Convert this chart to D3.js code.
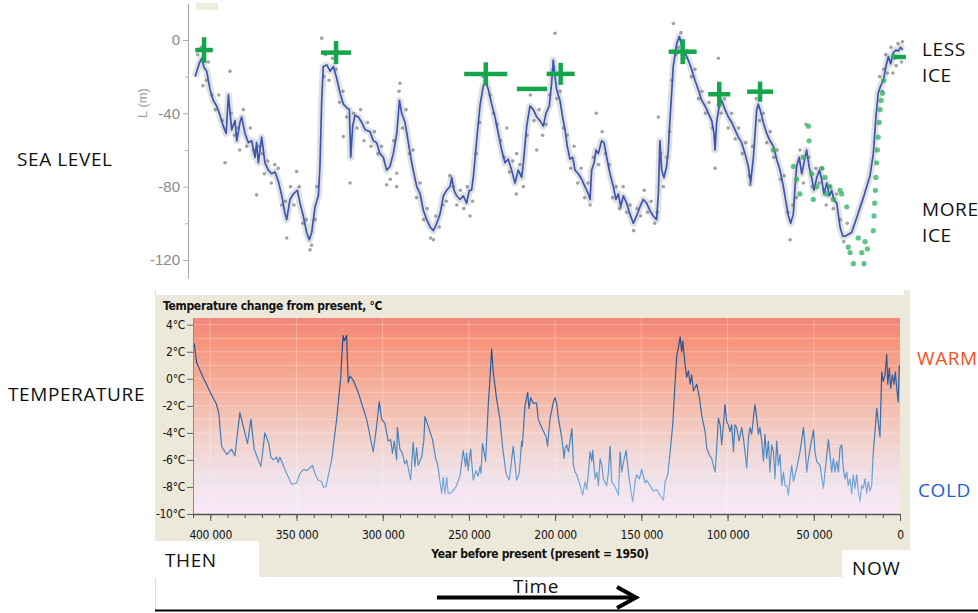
<!DOCTYPE html>
<html>
<head>
<meta charset="utf-8">
<script src="https://cdn.jsdelivr.net/npm/d3@7"></script>
<style>
  body { margin: 0; background: #fff; }
  svg { display: block; }
</style>
</head>
<body>
<div id="chart"></div>
<script>
// ---------- data: sea level (age in kyr before present, metres) ----------
const seaLevel = [
  [405.5,-20],[403.1,-12.7],[401.7,-10],[400.4,-15],[398.9,-17],[397.0,-27],[395.1,-33],[393.2,-36],[391.3,-41],
  [389.4,-47],[387.8,-51],[386.5,-30],[384.6,-49],[382.7,-44],[381.7,-55],[379.9,-45],[378.9,-42],[377.0,-51],
  [375.1,-56],[373.2,-55],[371.3,-64],[370.4,-56],[369.4,-67],[367.5,-53],[365.6,-67],[363.7,-71],[361.8,-73],
  [359.9,-72],[358.0,-77],[356.0,-85],[354.1,-95],[353.2,-98],[351.3,-87],[349.4,-84],[347.1,-82],[345.6,-89],
  [343.7,-96],[341.8,-105],[340.3,-109],[338.9,-105],[337.0,-91],[335.1,-85],[334.2,-69],[333.2,-33],[332.3,-14.5],
  [330.3,-13.6],[328.4,-17],[326.5,-14.5],[324.6,-21],[322.7,-29],[320.8,-35],[318.9,-37],[317.4,-38],[316.6,-64],
  [315.5,-47],[314.2,-41],[312.3,-42],[310.3,-45],[308.4,-49],[305.6,-50],[303.7,-55],[301.8,-56],[299.9,-62],
  [298.0,-64],[296.1,-71],[294.2,-69],[292.3,-62],[290.3,-51],[288.8,-33],[287.5,-40],[285.6,-45],[283.7,-56],
  [281.8,-67],[278.9,-80],[277.0,-84],[275.1,-93],[273.2,-98],[271.3,-102],[269.4,-104],[267.5,-100],[265.6,-95],
  [263.7,-85],[261.8,-82],[259.9,-80],[258.9,-75],[257.6,-82],[256.1,-85],[254.2,-87],[252.3,-85],[250.4,-89],
  [248.9,-82],[247.6,-82],[246.6,-75],[244.7,-55],[242.8,-36],[240.9,-25],[239.4,-23],[238.0,-27],[236.1,-35],
  [234.2,-42],[232.3,-51],[230.4,-60],[228.5,-67],[226.6,-65],[224.7,-71],[222.8,-78],[220.9,-71],[219.0,-75],
  [218.0,-67],[216.1,-47],[214.2,-36],[212.3,-38],[210.4,-42],[208.5,-44],[206.6,-47],[205.1,-40],[203.2,-36],
  [201.9,-24],[200.9,-11],[199.9,-20],[199.0,-27],[197.1,-33],[195.6,-42],[194.2,-49],[192.9,-58],[191.4,-65],
  [189.8,-64],[188.5,-71],[186.6,-73],[184.7,-76],[182.8,-80],[180.9,-84],[179.9,-87],[179.0,-71],[177.6,-67],
  [176.5,-60],[175.2,-62],[173.3,-55],[171.9,-56],[170.4,-64],[168.5,-73],[166.6,-80],[165.1,-87],[163.7,-84],
  [162.4,-91],[160.9,-85],[159.0,-89],[157.1,-95],[155.2,-100],[153.3,-96],[151.4,-91],[149.5,-87],[147.6,-89],
  [145.7,-93],[143.8,-96],[141.9,-98],[140.9,-84],[140.0,-55],[139.0,-71],[137.7,-75],[136.2,-69],[135.2,-60],
  [134.3,-44],[133.3,-29],[132.4,-14.5],[130.4,-2],[128.9,2],[127.6,-3],[125.7,-7],[123.8,-11],[121.9,-16],
  [120.0,-22],[118.1,-27],[116.1,-33],[114.2,-36],[112.3,-40],[110.4,-44],[109.1,-51],[108.5,-60],[107.6,-45],
  [106.1,-36],[104.7,-33],[102.8,-38],[100.9,-42],[99.0,-45],[97.1,-49],[95.2,-53],[93.3,-56],[91.4,-62],
  [89.5,-69],[88.2,-78],[86.6,-64],[84.7,-38],[83.8,-35],[82.8,-38],[80.9,-45],[79.0,-51],[77.1,-55],[75.2,-58],
  [73.3,-65],[71.4,-71],[69.5,-80],[67.9,-89],[66.6,-96],[65.3,-100],[63.8,-95],[62.8,-80],[61.9,-69],[60.4,-64],
  [59.0,-73],[57.7,-67],[56.2,-60],[54.8,-69],[53.3,-75],[52.0,-82],[50.4,-75],[48.9,-71],[47.6,-76],[46.3,-84],
  [44.7,-78],[43.2,-85],[41.9,-82],[40.6,-87],[39.0,-89],[37.1,-102],[35.6,-107],[34.3,-107],[30.5,-105],
  [27.6,-97],[23.8,-86],[20.0,-74],[18.1,-62],[16.6,-42],[15.3,-29],[13.9,-25],[12.4,-22],[10.9,-14.5],[9.5,-9],
  [8.2,-13],[6.7,-7],[5.2,-5.5],[3.8,-6],[2.5,-4],[1.3,-5.5]
];

// individual sea level estimates (grey dots)
const seaDots = [
  [404,-8],[402,-4],[401,-25],[399,-22],[398,-12],[396,-30],[394,-38],[392,-30],[390,-44],[388.4,-67],[385.6,-17],
  [385,-40],[383,-52],[381,-48],[380,-60],[378,-38],[376,-58],[374,-48],[372,-60],[370.4,-84.5],[369,-58],[367,-62],
  [366,-73],[364,-66],[362,-78],[360,-68],[358,-70],[356,-90],[354,-88],[353.2,-108],[351,-80],[349,-90],
  [347.5,-71.8],[346,-80],[344,-100],[342,-98],[339.9,-114.5],[339,-112],[337,-98],[336,-80],[333.2,1],[332,-20],
  [331,-8],[329,-22],[327,-10],[325,-16],[323,-34],[321,-28],[320.8,-52.7],[319,-42],[317,-78],[315,-40],[313,-48],
  [311,-38],[309,-55],[307,-45],[305,-58],[303,-50],[301,-62],[299,-58],[296.1,-79],[294,-76],[292,-55],
  [290.3,-72.7],[290.4,-80],[289,-28],[288.5,-23.6],[287,-48],[285,-38],[283,-62],[281,-60],[279,-86],[277,-78],
  [275,-98],[273,-92],[271,-108],[269.4,-109],[268,-96],[266,-102],[264,-90],[262,-88],[260,-74],[258,-80],
  [256,-90],[254,-82],[252,-92],[250,-80],[248.5,-96],[247,-88],[245,-62],[243,-45],[241,-20],[239,-18],[237,-30],
  [235,-40],[233,-46],[231,-55],[229,-64],[227.5,-48],[226,-72],[224,-66],[222,-84],[221.8,-62],[220,-68],
  [218,-80],[216,-52],[214,-30],[212,-44],[210.4,-60],[209,-38],[207,-52],[205,-46],[203,-30],[201,-16],
  [199.9,3.6],[199,-32],[197,-28],[195,-48],[193,-52],[191,-70],[189,-58],[187,-78],[185,-70],[183,-86],[181,-78],
  [179.9,-90],[178,-64],[176.3,-40],[175,-68],[173,-50],[171,-62],[169,-68],[167,-86],[165,-80],[163,-92],
  [161,-80],[159,-94],[157,-90],[155,-104],[153,-92],[151,-96],[149,-82],[147,-94],[145,-88],[143,-100],
  [141.5,-94],[140.9,-42],[139.5,-62],[138,-80],[136,-64],[134.5,-50],[133,-22],[132.3,9],[131,-8],[129.5,-4],
  [128,4],[126,-10],[124,-6],[122,-20],[120,-16],[118,-32],[116,-28],[114,-40],[112,-34],[110,-48],[108.5,-70],
  [106.6,-10],[105,-40],[103,-32],[101,-48],[99,-40],[97,-54],[95,-48],[93,-62],[91,-56],[89,-74],[88.4,-79],
  [87,-58],[85,-32],[83,-44],[81,-40],[79,-56],[77,-50],[75,-64],[73,-60],[71,-76],[69,-74],[67,-94],[65.6,-109],
  [64,-90],[62,-86],[60,-60],[58,-78],[56.6,-46],[55,-64],[53,-80],[51,-70],[49,-78],[47,-70],[45,-90],[43,-80],
  [41,-92],[39,-84],[37,-98],[35,-110],[33,-100],[12,-16],[10,-18],[8,-4],[6,-10],[4,-2],[3,-9],[1.5,-1],[2,-12],
  [5,-14],[7,-18],[11,-8],[13,-28],[14.5,-20]
];

// coral / other record (green dots)
const greenDots = [
  [75.2,-60],[63.8,-69],[61.9,-76],[60.0,-84],[58.1,-64],[55.2,-47],[54.8,-55],[53.3,-73],[52.4,-87],[50.4,-80],
  [47.6,-70],[45.7,-75],[44.7,-84],[42.9,-80],[40.9,-87],[37.1,-82],[36.2,-84],[33.3,-91],[32.4,-113],[31.4,-116],
  [29.5,-122],[26.7,-108],[24.7,-116],[23.4,-122],[22.8,-110],[21.5,-114],[18.1,-104],[17.7,-96],[17.3,-89],
  [16.9,-82],[16.6,-75],[16.2,-67],[15.8,-60],[15.3,-53],[14.7,-45],[14.2,-38],[13.6,-33],[12.8,-29],[12.1,-22],
  [6.7,-9]
];

// highstands: [age kyr, level m, age half-range kyr, level half-range m]
const highstands = [
  [400.4,-5.5,5,7],[325.0,-6.9,8.6,6.3],[239.5,-18.5,12.3,6.3],[213.1,-26.7,8.6,0],[196.7,-18.5,8,6],
  [127.0,-6.4,8,6.8],[106.1,-29.6,6.3,6.8],[82.8,-28.2,7.4,5.5],[2.9,-9.3,3.4,0]
];

const seaTicks = [0, -40, -80, -120];
const seaMinorTicks = [-20, -60, -100];

// ---------- data: temperature change from present (age kyr, deg C) ----------
const temperatureOld = [
  [409.9,2.4],[409.3,2.6],[407.9,1.2],[404.1,0.1],[399.2,-1.2],[396.3,-1.9],[395.0,-2.6],[393.4,-5.0],[390.5,-5.6],
  [387.6,-5.2],[385.7,-5.7],[382.8,-2.5],[378.4,-4.8],[376.4,-3.0],[374.5,-5.2],[370.6,-6.5],[368.3,-4.0],
  [366.0,-4.8],[364.8,-5.8],[363.5,-6.0],[361.5,-5.8],[360.6,-6.2],[359.6,-5.8],[357.7,-6.4],[355.7,-7.0],
  [352.8,-7.8],[349.9,-7.7],[348.0,-7.0],[345.7,-6.7],[344.1,-6.8],[340.7,-6.4],[339.3,-7.0],[337.4,-7.5],
  [335.4,-7.6],[334.5,-8.0],[332.9,-8.0],[329.6,-6.0],[326.7,-3.0],[324.4,0.0],[323.3,2.5],[322.9,3.2],[322.3,2.8],
  [320.9,3.2],[320.0,-0.3],[319.0,0.2],[317.1,-0.1],[314.2,-1.0],[309.3,-3.0],[305.5,-5.4],[303.5,-3.5],
  [302.0,-1.7],[300.6,-3.0],[298.7,-3.3],[296.8,-4.6],[295.4,-4.5],[294.3,-5.5],[293.3,-4.6],[291.9,-6.0],
  [291.5,-3.6],[290.0,-5.2],[288.6,-5.5],[287.1,-6.3],[286.1,-6.0],[283.8,-7.5],[282.3,-4.7],[281.3,-6.5],
  [280.3,-5.1],[279.4,-6.4],[277.4,-5.8],[276.1,-4.5],[275.5,-2.8],[273.6,-3.5],[271.1,-4.5],[269.1,-6.0],
  [268.4,-6.2],[267.6,-6.8],[265.8,-8.5],[264.9,-7.3],[263.9,-8.5],[262.9,-7.3],[262.0,-8.5],[260.0,-8.4],
  [257.5,-8.0],[255.2,-7.2],[253.3,-5.3],[251.9,-6.5],[251.3,-5.5],[250.4,-6.8],[249.8,-6.0],[249.0,-5.2],
  [247.5,-7.5],[245.9,-6.8],[244.6,-7.2],[243.6,-6.5],[243.0,-7.0],[242.1,-4.8],[241.1,-5.5],[240.3,-6.1],
  [238.8,-2.0],[237.8,0.0],[236.8,2.2],[235.9,0.5],[233.9,-1.5],[232.0,-3.0],[230.5,-5.0],[228.5,-7.0],
  [226.6,-7.5],[224.3,-5.0],[222.3,-7.5],[220.8,-7.0],[219.4,-4.6],[219.0,-5.0],[217.5,-2.0],[215.9,-1.0],
  [215.2,-2.2],[214.2,-1.4],[212.7,-1.8],[210.7,-1.8],[209.8,-3.0],[207.8,-3.6]
];
const temperatureRecent = [
  [205.2,-4.3],[204.4,-5.0],[202.9,-2.9],[201.0,-1.7],[200.0,-1.4],[199.0,-1.9],[198.1,-2.9],[196.1,-4.4],
  [194.8,-5.9],[194.2,-5.1],[193.2,-4.9],[192.3,-5.4],[191.3,-4.6],[190.3,-3.7],[189.4,-6.4],[188.4,-6.9],
  [187.4,-7.1],[185.5,-7.9],[184.0,-8.6],[182.6,-7.6],[181.6,-8.2],[180.7,-6.9],[179.7,-5.4],[178.7,-6.1],
  [178.2,-5.3],[176.8,-7.4],[175.8,-6.9],[174.9,-7.9],[173.9,-5.9],[172.9,-6.4],[172.0,-7.4],[170.1,-7.9],
  [169.1,-6.9],[168.1,-5.0],[167.2,-7.6],[165.2,-8.0],[163.3,-8.6],[162.3,-5.4],[161.4,-6.9],[160.4,-6.2],
  [158.8,-5.3],[157.5,-6.9],[156.5,-7.9],[155.0,-9.1],[153.6,-7.6],[152.7,-7.1],[151.1,-7.4],[149.8,-6.7],
  [147.8,-7.7],[146.9,-7.5],[144.9,-7.9],[143.0,-8.3],[141.1,-8.2],[139.1,-8.6],[137.2,-9.0],[136.2,-7.6],
  [134.7,-7.1],[133.3,-5.4],[131.8,-3.4],[130.4,-0.2],[129.5,1.7],[128.5,2.3],[127.5,3.1],[126.6,2.0],[126.0,2.8],
  [125.2,1.8],[124.6,1.0],[123.7,0.1],[122.7,0.6],[121.7,-0.4],[120.8,0.3],[119.8,-0.9],[117.9,-0.4],[116.3,-1.4],
  [115.0,-2.7],[113.0,-3.9],[112.1,-5.1],[110.7,-5.6],[109.2,-5.9],[108.2,-6.4],[107.2,-6.9],[106.3,-5.1],
  [105.3,-2.9],[104.3,-3.4],[103.4,-4.9],[102.4,-3.4],[101.5,-1.9],[100.5,-3.2],[99.5,-3.4],[98.6,-3.9],
  [97.6,-3.4],[96.6,-5.4],[95.7,-3.4],[94.7,-3.6],[93.3,-4.6],[91.8,-3.6],[90.8,-4.4],[89.9,-5.4],[88.9,-6.6],
  [87.9,-4.4],[87.0,-3.6],[86.0,-4.1],[85.0,-2.9],[84.1,-1.9],[83.1,-2.9],[82.1,-4.1],[81.2,-3.6],[80.2,-4.6],
  [79.2,-6.1],[78.3,-4.1],[77.3,-5.9],[76.3,-4.6],[75.4,-6.9],[74.4,-4.9],[73.4,-5.4],[72.5,-7.4],[71.5,-4.6],
  [70.5,-6.4],[69.6,-5.6],[68.6,-7.9],[67.6,-6.9],[66.7,-7.9],[65.7,-7.9],[64.7,-8.6],[63.8,-7.4],[62.8,-6.4],
  [61.8,-7.6],[59.9,-6.6],[58.0,-5.4],[56.0,-3.6],[55.1,-4.9],[54.1,-6.9],[53.1,-5.9],[51.8,-4.9],[50.2,-3.8],
  [49.3,-5.4],[48.3,-6.1],[46.4,-6.4],[44.4,-8.1],[43.5,-6.9],[41.5,-4.5],[40.6,-5.6],[39.6,-6.9],[38.6,-5.9],
  [37.7,-6.9],[36.7,-6.1],[35.7,-6.9],[34.8,-5.1],[33.8,-4.9],[32.9,-6.6],[31.9,-7.4],[30.9,-6.9],[30.0,-7.9],
  [29.0,-7.4],[28.0,-8.5],[27.1,-7.1],[26.1,-8.1],[25.1,-7.1],[24.2,-8.3],[23.2,-9.1],[22.2,-7.9],[21.3,-8.1],
  [20.3,-7.4],[19.3,-8.5],[18.4,-7.6],[17.4,-8.3],[16.4,-7.9],[15.5,-5.4],[14.5,-3.9],[13.5,-2.2],[12.6,-3.2],
  [11.6,-4.3],[10.6,0.5],[9.7,-0.2],[8.7,0.3],[7.7,1.8],[7.1,-0.4],[6.2,0.8],[5.4,-0.7],[4.4,0.3],[3.5,-0.4],
  [2.7,0.5],[1.9,-0.7],[1.0,-1.7],[0.4,1.0]
];
const temperature = temperatureOld.concat(temperatureRecent);

const tempTicks = [4, 2, 0, -2, -4, -6, -8, -10];
const yearTicks = [400, 350, 300, 250, 200, 150, 100, 50, 0];   // kyr
const yearMinorTicks = d3.range(0, 411, 10);

// ---------- setup ----------
const width = 978, height = 613;
const annoFont = "'Open Sans', sans-serif";
const narrowFont = "'Liberation Sans Narrow', 'DejaVu Sans Condensed', 'Arial Narrow', sans-serif";

const svg = d3.select("#chart").append("svg")
    .attr("width", width)
    .attr("height", height)
    .style("background", "#fff");

const defs = svg.append("defs");

// ================= SEA LEVEL PANEL =================
const xSea = d3.scaleLinear().domain([405, 0]).range([196, 905]);
const ySea = d3.scaleLinear().domain([20, -130]).range([3.3, 278.3]);

const seaPanel = svg.append("g");

seaPanel.append("rect")
    .attr("x", 196).attr("y", 3).attr("width", 22).attr("height", 7)
    .attr("fill", "#eeebdf");

const seaAxisG = seaPanel.append("g")
    .attr("transform", "translate(188,0)")
    .call(d3.axisLeft(ySea).tickValues(seaTicks).tickSize(5).tickSizeOuter(0).tickPadding(3).tickFormat(d => String(d)));
seaAxisG.select(".domain").attr("stroke", "#a8a8a8");
seaAxisG.selectAll(".tick line").attr("stroke", "#a8a8a8");
seaAxisG.selectAll(".tick text")
    .attr("fill", "#8a8a8a")
    .style("font-family", "'Liberation Sans', Arial, sans-serif")
    .style("font-size", "15px");

const seaMinorG = seaPanel.append("g")
    .attr("transform", "translate(188,0)")
    .call(d3.axisLeft(ySea).tickValues(seaMinorTicks).tickSize(3).tickFormat(""));
seaMinorG.select(".domain").remove();
seaMinorG.selectAll(".tick line").attr("stroke", "#b5b5b5");

seaPanel.append("text")
    .attr("transform", "translate(147,103) rotate(-90)")
    .attr("text-anchor", "middle")
    .attr("fill", "#a0a0a0")
    .style("font-family", "'Liberation Sans', Arial, sans-serif")
    .style("font-size", "13px")
    .text("L (m)");

const seaLine = d3.line()
    .x(d => xSea(d[0]))
    .y(d => ySea(d[1]));

// grey halo of dense estimates
seaPanel.append("path")
    .datum(seaLevel)
    .attr("d", seaLine)
    .attr("fill", "none")
    .attr("stroke", "#8a8a8a")
    .attr("stroke-width", 7)
    .attr("stroke-linejoin", "round")
    .attr("opacity", 0.26);

seaPanel.append("g").selectAll("circle")
    .data(seaDots)
    .join("circle")
    .attr("cx", d => xSea(d[0]))
    .attr("cy", d => ySea(d[1]))
    .attr("r", 1.8)
    .attr("fill", "#7a7a7a")
    .attr("opacity", 0.7);

seaPanel.append("path")
    .datum(seaLevel)
    .attr("d", seaLine)
    .attr("fill", "none")
    .attr("stroke", "#3b55b4")
    .attr("stroke-width", 1.7)
    .attr("stroke-linejoin", "round");

seaPanel.append("g").selectAll("circle")
    .data(greenDots)
    .join("circle")
    .attr("cx", d => xSea(d[0]))
    .attr("cy", d => ySea(d[1]))
    .attr("r", 2.6)
    .attr("fill", "#27b35c")
    .attr("opacity", 0.75);

const crosses = seaPanel.append("g")
    .attr("stroke", "#15a54b")
    .attr("stroke-width", 4.5);
highstands.forEach(h => {
    crosses.append("line")
        .attr("x1", xSea(h[0] + h[2])).attr("x2", xSea(h[0] - h[2]))
        .attr("y1", ySea(h[1])).attr("y2", ySea(h[1]));
    if (h[3] > 0) {
        crosses.append("line")
            .attr("x1", xSea(h[0])).attr("x2", xSea(h[0]))
            .attr("y1", ySea(h[1] + h[3])).attr("y2", ySea(h[1] - h[3]));
    }
});

// ================= TEMPERATURE PANEL =================
const xTemp = d3.scaleLinear().domain([410, 0]).range([193, 900]);
const yTemp = d3.scaleLinear().domain([4.5, -10]).range([318, 514]);

const tempPanel = svg.append("g");

tempPanel.append("line")
    .attr("x1", 155.5).attr("x2", 155.5).attr("y1", 290).attr("y2", 610)
    .attr("stroke", "#dcdcdc");

tempPanel.append("rect")
    .attr("x", 155).attr("y", 295).attr("width", 755).attr("height", 282)
    .attr("fill", "#ece9db");
tempPanel.append("rect")
    .attr("x", 904).attr("y", 290).attr("width", 6).attr("height", 6)
    .attr("fill", "#ece9db");
tempPanel.append("rect")
    .attr("x", 155).attr("y", 541).attr("width", 104).attr("height", 37)
    .attr("fill", "#fff");
tempPanel.append("rect")
    .attr("x", 842).attr("y", 550).attr("width", 70).attr("height", 28)
    .attr("fill", "#fff");

const bg = defs.append("linearGradient")
    .attr("id", "tempBg")
    .attr("x1", 0).attr("y1", 0).attr("x2", 0).attr("y2", 1);
[["0%", "#f1877c"], ["12%", "#f7947b"], ["35%", "#f5b09c"], ["60%", "#f2cfc8"], ["82%", "#f0e2ea"], ["100%", "#f9e8f7"]]
    .forEach(s => bg.append("stop").attr("offset", s[0]).attr("stop-color", s[1]));

const lineGrad = defs.append("linearGradient")
    .attr("id", "tempLine")
    .attr("gradientUnits", "userSpaceOnUse")
    .attr("x1", 0).attr("y1", yTemp(4.5)).attr("x2", 0).attr("y2", yTemp(-10));
[["0%", "#1f4585"], ["45%", "#2e66a6"], ["70%", "#4d8cc6"], ["100%", "#9cc3e6"]]
    .forEach(s => lineGrad.append("stop").attr("offset", s[0]).attr("stop-color", s[1]));

tempPanel.append("rect")
    .attr("x", xTemp(410)).attr("y", yTemp(4.5))
    .attr("width", xTemp(0) - xTemp(410)).attr("height", yTemp(-10) - yTemp(4.5))
    .attr("fill", "url(#tempBg)");

// faint white grid
tempPanel.append("g").selectAll("line")
    .data(d3.range(-9, 5, 1))
    .join("line")
    .attr("x1", xTemp(410)).attr("x2", xTemp(0))
    .attr("y1", d => yTemp(d)).attr("y2", d => yTemp(d))
    .attr("stroke", "#fff").attr("stroke-opacity", 0.3);
tempPanel.append("g").selectAll("line")
    .data(yearTicks.slice(0, -1))
    .join("line")
    .attr("x1", d => xTemp(d)).attr("x2", d => xTemp(d))
    .attr("y1", yTemp(4.5)).attr("y2", yTemp(-10))
    .attr("stroke", "#fff").attr("stroke-opacity", 0.3);

tempPanel.append("text")
    .attr("x", 163).attr("y", 309.5)
    .attr("fill", "#111")
    .style("font-family", narrowFont)
    .style("font-weight", "bold")
    .style("font-size", "12px")
    .style("letter-spacing", "-0.3px")
    .text("Temperature change from present, °C");

const tempLine = d3.line()
    .x(d => xTemp(d[0]))
    .y(d => yTemp(d[1]));

tempPanel.append("path")
    .datum(temperature)
    .attr("d", tempLine)
    .attr("fill", "none")
    .attr("stroke", "url(#tempLine)")
    .attr("stroke-width", 1.2)
    .attr("stroke-linejoin", "round");

// y axis
const tempYG = tempPanel.append("g")
    .attr("transform", "translate(" + xTemp(410) + ",0)")
    .call(d3.axisLeft(yTemp).tickValues(tempTicks).tickSize(6).tickSizeOuter(0).tickPadding(2).tickFormat(d => d + "°C"));
tempYG.select(".domain").attr("stroke", "#8a8a8a");
tempYG.selectAll(".tick line").attr("stroke", "#666");
tempYG.selectAll(".tick text")
    .attr("fill", "#111")
    .style("font-family", narrowFont)
    .style("font-size", "12px")
    .style("letter-spacing", "-0.3px");

// x axis
const yearFormat = d3.formatLocale({ decimal: ".", thousands: " ", grouping: [3], currency: ["", ""] }).format(",");

const tempXMinor = tempPanel.append("g")
    .attr("transform", "translate(0," + yTemp(-10) + ")")
    .call(d3.axisBottom(xTemp).tickValues(yearMinorTicks).tickSize(4).tickFormat(""));
tempXMinor.select(".domain").remove();
tempXMinor.selectAll(".tick line").attr("stroke", "#555");

const tempXG = tempPanel.append("g")
    .attr("transform", "translate(0," + yTemp(-10) + ")")
    .call(d3.axisBottom(xTemp).tickValues(yearTicks).tickSize(7).tickSizeOuter(0).tickPadding(9)
        .tickFormat(d => yearFormat(d * 1000)));
tempXG.select(".domain").attr("stroke", "#555").attr("stroke-width", 1.5);
tempXG.selectAll(".tick line").attr("stroke", "#555");
tempXG.selectAll(".tick text")
    .attr("fill", "#111")
    .style("font-family", narrowFont)
    .style("font-size", "12px")
    .style("letter-spacing", "-0.3px");

tempPanel.append("text")
    .attr("x", 540).attr("y", 557.5)
    .attr("text-anchor", "middle")
    .attr("fill", "#111")
    .style("font-family", narrowFont)
    .style("font-weight", "bold")
    .style("font-size", "12px")
    .style("letter-spacing", "-0.3px")
    .text("Year before present (present = 1950)");

// ================= ANNOTATIONS =================
const anno = svg.append("g")
    .style("font-family", annoFont)
    .style("font-size", "19px")
    .style("letter-spacing", "0.6px")
    .attr("fill", "#111");

anno.append("text").attr("x", 17).attr("y", 166).text("SEA LEVEL");
anno.append("text").attr("x", 8).attr("y", 401).text("TEMPERATURE");
anno.append("text").attr("x", 922).attr("y", 56).text("LESS");
anno.append("text").attr("x", 922).attr("y", 82).text("ICE");
anno.append("text").attr("x", 922).attr("y", 216).text("MORE");
anno.append("text").attr("x", 922).attr("y", 242).text("ICE");
anno.append("text").attr("x", 917).attr("y", 365).attr("fill", "#f4511e").text("WARM");
anno.append("text").attr("x", 918).attr("y", 497).attr("fill", "#1f5fd0").text("COLD");
anno.append("text").attr("x", 165).attr("y", 567).text("THEN");
anno.append("text").attr("x", 852).attr("y", 575).text("NOW");
anno.append("text").attr("x", 536).attr("y", 593).attr("text-anchor", "middle").text("Time");

// time arrow
svg.append("line")
    .attr("x1", 437).attr("x2", 635).attr("y1", 597.5).attr("y2", 597.5)
    .attr("stroke", "#000").attr("stroke-width", 4);
svg.append("polyline")
    .attr("points", "617,587 636,597.5 617,608")
    .attr("fill", "none").attr("stroke", "#000").attr("stroke-width", 4);

svg.append("line")
    .attr("x1", 155).attr("x2", 978).attr("y1", 610.5).attr("y2", 610.5)
    .attr("stroke", "#000").attr("stroke-width", 2);
</script>
</body>
</html>
